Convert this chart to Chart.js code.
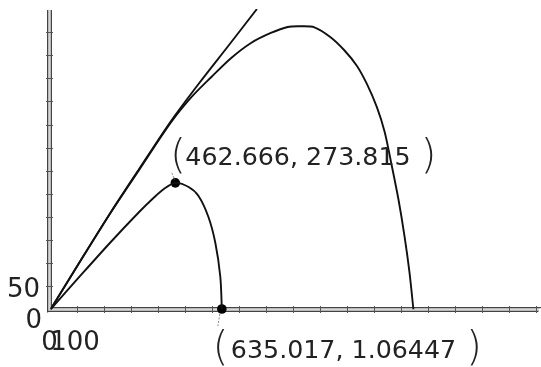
<!DOCTYPE html>
<html><head><meta charset="utf-8">
<script src="https://cdn.jsdelivr.net/npm/chart.js@4"></script>
<style>html,body{margin:0;padding:0;background:#fff}</style>
</head><body>
<canvas id="c" width="541" height="367"></canvas>
<script>
// Straight-ish reference trajectory
const lineX = [0, 108.3, 224.6, 328.4, 444.8, 548.6, 658.7, 765];
const lineY = [0, 102.7, 211.5, 303.9, 406.2, 487.8, 570.0, 650];
// Large trajectory
const bigX = [0, 108.3, 224.6, 328.4, 444.8, 522.9, 596.3, 669.7, 743.1, 816.5, 878.9, 926.6, 978.0, 1036.7, 1088.1, 1135.8, 1172.5, 1209.2, 1238.5, 1264.2, 1289.9, 1311.9, 1330.3, 1345];
const bigY = [0, 102.7, 210.9, 301.8, 403.4, 459.7, 502.9, 544.0, 576.5, 598.1, 611.1, 612.6, 610.4, 589.5, 561.3, 526.8, 487.9, 438.2, 384.1, 312.5, 236.8, 158.9, 80.9, 0];
// Small trajectory
const smallX = [0, 108.3, 218.3, 328.4, 383.5, 420.2, 462.666, 511.9, 548.6, 585.3, 611.0, 629.4, 635.017];
const smallY = [0, 71.4, 142.8, 210.9, 242.3, 260.7, 273.815, 265.0, 245.5, 200.1, 143.8, 70.3, 1.06447];
// Marked points
const markX = [462.666, 635.017];
const markY = [273.815, 1.06447];
const markLabels = ["462.666, 273.815", "635.017, 1.06447"];
// Axis ticks
const xTickValues = [100,200,300,400,500,600,700,800,900,1000,1100,1200,1300,1400,1500,1600,1700,1800];
const yTickValues = [50,100,150,200,250,300,350,400,450,500,550,600];
const xTickLabels = ["0", "100"];
const xTickLabelValues = [0, 100];
const yTickLabels = ["0", "50"];
const yTickLabelValues = [0, 50];

const zip = (a, b) => a.map((v, i) => ({x: v, y: b[i]}));

const axesPlugin = {
  id: 'mmaAxes',
  beforeDatasetsDraw(chart) {
    const ctx = chart.ctx, xs = chart.scales.x, ys = chart.scales.y;
    const x0 = xs.getPixelForValue(0) - 1, y0 = ys.getPixelForValue(0);
    const top = chart.chartArea.top + 1, right = chart.width;
    ctx.save();
    ctx.fillStyle = '#d6d6d6';
    ctx.fillRect(x0 - 1.5, top, 3, y0 - top + 2);
    ctx.fillRect(x0 - 2, y0 - 1.5, right - x0, 3);
    ctx.fillStyle = '#444';
    ctx.fillRect(x0 - 2.5, top, 1.2, y0 - top + 3);
    ctx.fillRect(x0 + 1.3, top, 1.2, y0 - top - 1.5);
    ctx.fillRect(x0 - 2.5, y0 + 1.3, right - x0, 1.2);
    ctx.fillRect(x0 + 1.3, y0 - 2.5, right - x0, 1.2);
    ctx.strokeStyle = '#555';
    ctx.lineWidth = 1;
    xTickValues.forEach(v => {
      const p = Math.round(xs.getPixelForValue(v)) + 0.5;
      ctx.beginPath(); ctx.moveTo(p, y0 - 3.5); ctx.lineTo(p, y0 + 3.5); ctx.stroke();
    });
    yTickValues.forEach(v => {
      const p = Math.round(ys.getPixelForValue(v)) + 0.5;
      ctx.beginPath(); ctx.moveTo(x0 - 3.5, p); ctx.lineTo(x0 + 3.5, p); ctx.stroke();
    });
    ctx.restore();
  },
  afterDatasetsDraw(chart) {
    const ctx = chart.ctx, xs = chart.scales.x, ys = chart.scales.y;
    ctx.save();
    ctx.fillStyle = '#222';
    ctx.font = "26px 'DejaVu Sans'";
    ctx.textBaseline = 'alphabetic';
    ctx.textAlign = 'right';
    yTickLabels.forEach((t, i) => {
      const v = yTickLabelValues[i];
      const py = ys.getPixelForValue(v);
      const off = v === 0 ? 18 : 10.5;
      const px = v === 0 ? 42 : 40;
      ctx.fillText(t, px, py + off);
    });
    ctx.textAlign = 'center';
    xTickLabels.forEach((t, i) => {
      const v = xTickLabelValues[i];
      const px = xs.getPixelForValue(v) + (v === 0 ? -1 : -2.5);
      ctx.fillText(t, px, 349.5);
    });
    const boxes = [
      {dx: 10, by: 165, pdx: -6, rdx: 14, lead: [[-3.5, -10], [-0.5, -3]]},
      {dx: 9, by: 357.5, pdx: -9, rdx: 14, lead: [[-2, 5], [-4, 17]]}
    ];
    markLabels.forEach((t, i) => {
      const px = xs.getPixelForValue(markX[i]);
      const py = ys.getPixelForValue(markY[i]);
      const b = boxes[i];
      ctx.font = "25.3px 'DejaVu Sans'";
      ctx.textAlign = 'left';
      ctx.fillStyle = '#222';
      const sx = px + b.dx;
      ctx.fillText(t, sx, b.by);
      const w = ctx.measureText(t).width;
      ctx.font = "200 40px 'DejaVu Sans'";
      ctx.fillText('(', sx + b.pdx - 9, b.by + 2.5);
      ctx.fillText(')', sx + w + b.rdx - 4, b.by + 2.5);
      ctx.strokeStyle = '#888';
      ctx.lineWidth = 1;
      ctx.setLineDash([2, 1.5]);
      ctx.beginPath();
      ctx.moveTo(px + b.lead[0][0], py + b.lead[0][1]);
      ctx.lineTo(px + b.lead[1][0], py + b.lead[1][1]);
      ctx.stroke();
      ctx.setLineDash([]);
    });
    ctx.restore();
  }
};

const curveStyle = {
  showLine: true, pointRadius: 0, borderColor: '#111', borderWidth: 1.9,
  tension: 0.3, fill: false
};

new Chart(document.getElementById('c'), {
  type: 'scatter',
  data: {
    datasets: [
      Object.assign({data: zip(lineX, lineY)}, curveStyle),
      Object.assign({data: zip(bigX, bigY)}, curveStyle),
      Object.assign({data: zip(smallX, smallY)}, curveStyle),
      {data: zip(markX, markY), showLine: false, pointRadius: 4.8, pointBackgroundColor: '#000', pointBorderColor: '#000', pointBorderWidth: 0, clip: false}
    ]
  },
  options: {
    responsive: false,
    animation: false,
    devicePixelRatio: 1,
    layout: {padding: {left: 50.5, right: 0.5, top: 9, bottom: 57.5}},
    plugins: {legend: {display: false}, tooltip: {enabled: false}},
    scales: {
      x: {type: 'linear', min: 0, max: 1800, display: false},
      y: {type: 'linear', min: 0, max: 650, display: false}
    }
  },
  plugins: [axesPlugin]
});
</script>
</body></html>
